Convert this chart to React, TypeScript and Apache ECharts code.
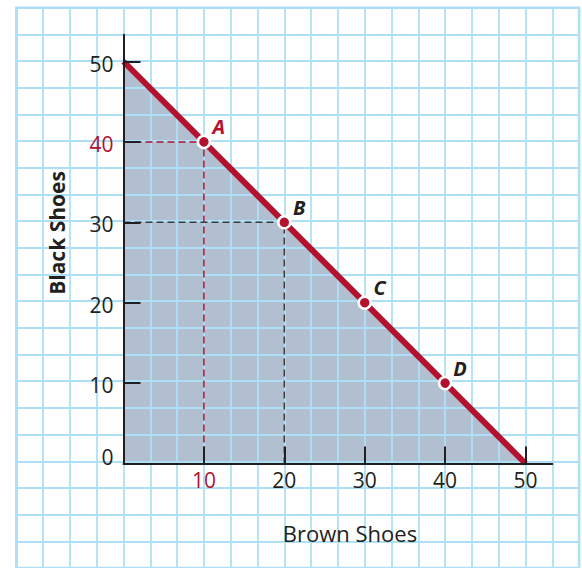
import React, { useEffect, useRef } from 'react';
import * as echarts from 'echarts';

// Production possibilities: black shoes vs brown shoes
const frontier: [number, number][] = [[0, 50], [50, 0]];
const pointNames = ['A', 'B', 'C', 'D'];
const brownShoes = [10, 20, 30, 40];
const blackShoes = [40, 30, 20, 10];
const xTickLabels = [10, 20, 30, 40, 50];
const yTickLabels = [0, 10, 20, 30, 40, 50];
const highlighted = 'A';

const RED = '#b3112e';
const INK = '#231f20';
const PAPER_LINE = '#ade0f7';
const FONT = '"Open Sans", "Noto Sans", sans-serif';
const LABEL_SIZE = 21;

// one graph-paper cell spans 10/3 units
const AXIS_MAX = 50 + 10 / 3;
const CELL = 26.8;

export default function App() {
  const ref = useRef<HTMLDivElement>(null);

  useEffect(() => {
    if (!ref.current) return;
    const chart = echarts.init(ref.current, undefined, { renderer: 'svg' });

    const guide = (name: string) => {
      const i = pointNames.indexOf(name);
      const x = brownShoes[i];
      const y = blackShoes[i];
      return [[0, y], [x, y], [x, 0]];
    };

    const guideSeries = pointNames.slice(0, 2).map((n) => ({
      type: 'line',
      xAxisIndex: 0,
      yAxisIndex: 0,
      data: guide(n),
      symbol: 'none',
      z: 3,
      lineStyle: {
        color: n === highlighted ? RED : '#3a3a3a',
        width: 1.5,
        type: [7, 4],
      },
      silent: true,
    }));

    const tickText = (color: string, padding: number[]) => ({
      color,
      fontFamily: FONT,
      fontSize: LABEL_SIZE,
      fontWeight: 500,
      padding,
    });

    const option: any = {
      animation: false,
      backgroundColor: '#ffffff',
      grid: [
        { left: 123.5, top: 34.7, width: 428.8, height: 428.8 },
        {
          left: 16.3,
          top: 7.7,
          width: CELL * 21,
          height: CELL * 21,
          show: true,
          borderColor: PAPER_LINE,
          borderWidth: 2.5,
          z: 0,
        },
      ],
      xAxis: [
        {
          type: 'value',
          gridIndex: 0,
          min: 0,
          max: AXIS_MAX,
          z: 6,
          axisLine: { show: true, onZero: false, lineStyle: { color: INK, width: 2 } },
          axisTick: {
            show: true,
            inside: true,
            length: 17,
            customValues: xTickLabels,
            lineStyle: { color: INK, width: 2 },
          },
          axisLabel: {
            customValues: xTickLabels,
            margin: 6,
            fontFamily: FONT,
            fontSize: LABEL_SIZE,
            formatter: (v: number) =>
              v === brownShoes[pointNames.indexOf(highlighted)] ? `{r|${v}}` : `{k|${v}}`,
            rich: {
              r: tickText(RED, [0, 0, 0, 0]),
              k: tickText(INK, [0, 0, 0, 0]),
            },
          },
          splitLine: { show: false },
        },
        {
          type: 'value',
          gridIndex: 1,
          min: 0,
          max: 21,
          interval: 1,
          z: 2,
          axisLine: { show: false },
          axisTick: { show: false },
          axisLabel: { show: false },
          splitLine: { show: true, lineStyle: { color: PAPER_LINE, width: 1.8 } },
        },
      ],
      yAxis: [
        {
          type: 'value',
          gridIndex: 0,
          min: 0,
          max: AXIS_MAX,
          z: 6,
          axisLine: { show: true, onZero: false, lineStyle: { color: INK, width: 2 } },
          axisTick: {
            show: true,
            inside: true,
            length: 17,
            customValues: xTickLabels,
            lineStyle: { color: INK, width: 2 },
          },
          axisLabel: {
            customValues: yTickLabels,
            margin: 10,
            fontFamily: FONT,
            fontSize: LABEL_SIZE,
            formatter: (v: number) => {
              if (v === 0) return `{z|0}`;
              if (v === blackShoes[pointNames.indexOf(highlighted)]) return `{r|${v}}`;
              return `{k|${v}}`;
            },
            rich: {
              r: tickText(RED, [4, 0, 0, 0]),
              k: tickText(INK, [4, 0, 0, 0]),
              z: tickText(INK, [0, 0, 13, 0]),
            },
          },
          splitLine: { show: false },
        },
        {
          type: 'value',
          gridIndex: 1,
          min: 0,
          max: 21,
          interval: 1,
          inverse: true,
          z: 2,
          axisLine: { show: false },
          axisTick: { show: false },
          axisLabel: { show: false },
          splitLine: { show: true, lineStyle: { color: PAPER_LINE, width: 1.8 } },
        },
      ],
      series: [
        {
          type: 'line',
          xAxisIndex: 0,
          yAxisIndex: 0,
          data: frontier,
          symbol: 'none',
          z: 1,
          lineStyle: { width: 0 },
          areaStyle: { color: '#b2bfd0', opacity: 1 },
          silent: true,
        },
        ...guideSeries,
        {
          type: 'line',
          xAxisIndex: 0,
          yAxisIndex: 0,
          data: frontier,
          symbol: 'none',
          z: 4,
          lineStyle: { color: RED, width: 6, cap: 'butt' },
          silent: true,
        },
        {
          type: 'scatter',
          xAxisIndex: 0,
          yAxisIndex: 0,
          z: 5,
          symbolSize: 12,
          itemStyle: { color: RED, borderColor: '#ffffff', borderWidth: 2.5, opacity: 1 },
          data: pointNames.map((n, i) => ({
            name: n,
            value: [brownShoes[i], blackShoes[i]],
            label: { color: n === highlighted ? RED : INK },
          })),
          label: {
            show: true,
            position: 'inside',
            offset: [15, -15],
            formatter: (p: any) => p.name,
            fontFamily: FONT,
            fontSize: 20,
            fontWeight: 'bold',
            fontStyle: 'italic',
          },
          silent: true,
        },
      ],
      graphic: [
        {
          type: 'text',
          x: 57,
          y: 233,
          z: 10,
          rotation: Math.PI / 2,
          style: {
            text: 'Black Shoes',
            fill: INK,
            font: `bold 21px ${FONT}`,
            textAlign: 'center',
            textVerticalAlign: 'middle',
          },
        },
        {
          type: 'text',
          x: 350,
          y: 533,
          z: 10,
          style: {
            text: 'Brown Shoes',
            fill: INK,
            font: `500 22px ${FONT}`,
            textAlign: 'center',
            textVerticalAlign: 'middle',
          },
        },
      ],
    };

    chart.setOption(option);
    return () => chart.dispose();
  }, []);

  return (
    <div
      ref={ref}
      style={{ position: 'absolute', left: 0, top: 0, width: 582, height: 568 }}
    />
  );
}
